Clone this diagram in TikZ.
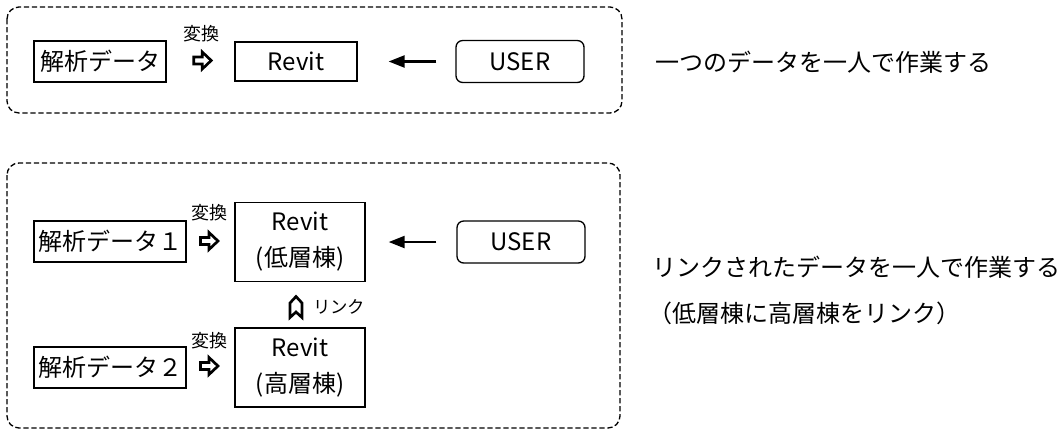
\documentclass[tikz,border=0pt]{standalone}
\usepackage{fontspec}
\setmainfont{Noto Sans CJK JP}
\usetikzlibrary{arrows.meta,calc}
\newdimen\px \px=0.75pt
\tikzset{
  outer/.style={draw, line width=1pt, dash pattern=on 4pt off 2pt, rounded corners=9pt},
  datbox/.style={draw, line width=1.7pt, inner sep=0pt, minimum height=41\px},
  revbox/.style={draw, line width=1pt, inner sep=0pt, align=center},
  userbox/.style={draw, line width=1pt, rounded corners=5pt, inner sep=0pt, minimum width=128\px, minimum height=42\px},
  smalltxt/.style={inner sep=0pt, font=\fontsize{13.5}{16}\selectfont},
  plaintxt/.style={inner sep=0pt, anchor=west},
  leftarr/.style={line width=1.7pt, -{Triangle[length=12pt,width=9pt]}},
  hollowarr/.pic={\draw[line width=2pt, line join=miter] (-8.5,-3.5) -- (0,-3.5) -- (0,-8.5) -- (9,0) -- (0,8.5) -- (0,3.5) -- (-8.5,3.5) -- cycle;},
  linkmark/.pic={\draw[line width=2pt, line join=miter] (0,-10.5) -- (6,-4) -- (6,10.5) -- (0,5) -- (-6,10.5) -- (-6,-4) -- cycle;}
}
\begin{document}
\begin{tikzpicture}[x=0.75pt,y=-0.75pt, font=\fontsize{18}{27}\selectfont]
\useasboundingbox (0,0) rectangle (1062,430);

% top group
\draw[outer] (7,7) rectangle (622,113);
\node[datbox, minimum width=132\px] (d0) at (100,61.5) {解析データ};
\node[revbox, minimum width=122\px, minimum height=39\px] (r0) at (296,61.5) {Revit};
\node[userbox] (u0) at (520,61.5) {USER};
\node[smalltxt] (c0) at (201,34) {変換};
\pic at ($(d0.east)!0.5!(r0.west)+(1.5,-1)$) {hollowarr};
\draw[leftarr, shorten <=19\px, shorten >=31\px] (u0.west) -- (r0.east);
\node[plaintxt] (t0) at (655,62) {一つのデータを一人で作業する};

% bottom group
\draw[outer] (7,163) rectangle (620,428);
\node[datbox, minimum width=152\px] (d1) at (110,241.5) {解析データ１};
\node[revbox, minimum width=130\px, minimum height=79\px] (r1) at (300,242) {Revit\\(低層棟)};
\node[datbox, minimum width=152\px] (d2) at (110,367.5) {解析データ２};
\node[revbox, minimum width=130\px, minimum height=79\px] (r2) at (300,367.5) {Revit\\(高層棟)};
\node[userbox] (u1) at (521,242) {USER};
\node[smalltxt] (c1) at (209,213) {変換};
\node[smalltxt] (c2) at (209,341) {変換};
\pic at (209,241) {hollowarr};
\pic at (209,366) {hollowarr};
\draw[leftarr, shorten <=20\px, shorten >=23\px] (u1.west) -- (r1.east);
\pic at (296,307) {linkmark};
\node[inner sep=0pt, anchor=west, font=\fontsize{13}{15}\selectfont] (lk) at (313,307) {リンク};
\node[plaintxt] (t1) at (652,267) {リンクされたデータを一人で作業する};
\node[plaintxt] (t2) at (648,313) {（低層棟に高層棟をリンク）};
\end{tikzpicture}
\end{document}
